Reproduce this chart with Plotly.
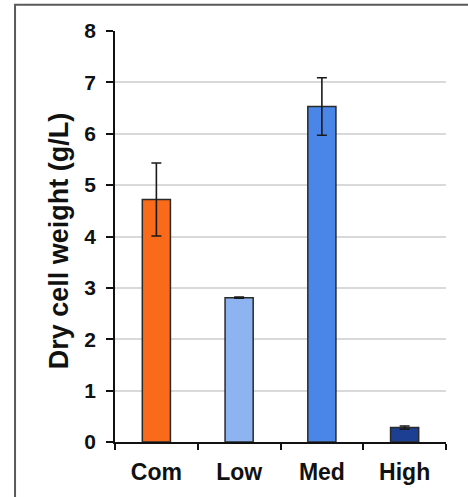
import plotly.graph_objects as go

# Dry cell weight per medium condition (mean ± error)
categories = ["Com", "Low", "Med", "High"]
dcw_mean = [4.72, 2.81, 6.53, 0.28]
dcw_err = [0.71, 0.01, 0.56, 0.03]
bar_colors = ["#F96A1B", "#8DB4F0", "#4A86E8", "#1C3F94"]
y_ticks = [0, 1, 2, 3, 4, 5, 6, 7, 8]
y_title = "Dry cell weight (g/L)"

font_family = "Liberation Sans, Arial, sans-serif"

fig = go.Figure(
    go.Bar(
        x=categories,
        y=dcw_mean,
        width=0.34,
        marker=dict(color=bar_colors, line=dict(color="#2a2a2a", width=1.5)),
        error_y=dict(type="data", array=dcw_err, symmetric=True,
                     color="#1a1a1a", thickness=1.6, width=5),
    )
)

fig.update_layout(
    width=468, height=497,
    margin=dict(l=115, r=22, t=31, b=53),
    paper_bgcolor="white", plot_bgcolor="white",
    showlegend=False,
    shapes=[
        # outer frame around the panel
        dict(type="rect", xref="paper", yref="paper",
             x0=-0.302, x1=1.3, y0=-0.3, y1=1.064,
             line=dict(color="#5a5a5a", width=2), fillcolor="rgba(0,0,0,0)",
             layer="below"),
    ],
    annotations=[
        # y-axis title placed beside the tick labels
        dict(text=f"<b>{y_title}</b>", textangle=-90, showarrow=False,
             xref="paper", yref="paper", x=-0.17, y=0.49,
             xanchor="center", yanchor="middle",
             font=dict(family=font_family, size=27, color="#111")),
    ],
)

fig.update_xaxes(
    tickvals=categories, ticktext=[f"<b>{c}</b>" for c in categories],
    showline=True, linecolor="#111", linewidth=1.5,
    ticks="outside", tickson="boundaries", ticklen=6, tickcolor="#111", tickwidth=1.5,
    ticklabelstandoff=9,
    tickfont=dict(family=font_family, size=23, color="#111"),
    showgrid=False,
)

fig.update_yaxes(
    range=[0, 8], tickvals=y_ticks, ticktext=[f"<b>{v}</b>" for v in y_ticks],
    showline=True, linecolor="#111", linewidth=1.5,
    ticks="outside", ticklen=7, tickcolor="#111", tickwidth=1.5,
    ticklabelstandoff=6,
    tickfont=dict(family=font_family, size=21, color="#111"),
    showgrid=True, gridcolor="#d9d9d9", gridwidth=1.5,
    zeroline=False,
)

fig.write_html("out.html")
